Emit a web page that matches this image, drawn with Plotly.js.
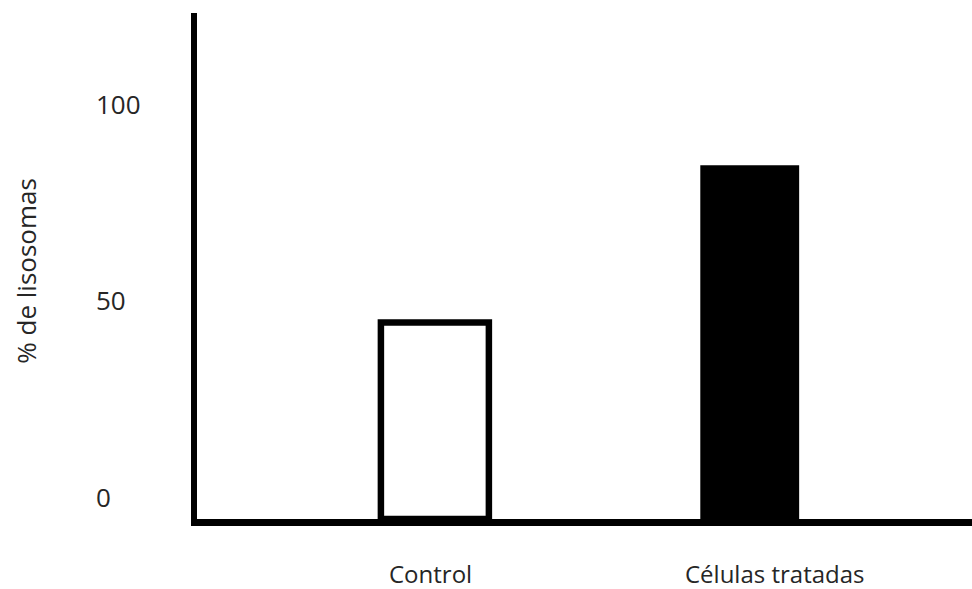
<!DOCTYPE html>
<html>
<head>
<meta charset="utf-8">
<script src="https://cdn.plot.ly/plotly-3.0.1.min.js"></script>
<style>html,body{margin:0;padding:0;background:#fff;}#chart{width:972px;height:589px;}</style>
</head>
<body>
<div id="chart"></div>
<script>
const categories = ["Control", "Células tratadas"];
const values = [50, 90];
const tickValues = [0, 50, 100];
const tickLabels = ["0", "50", "100"];
const yTitle = "% de lisosomas";

const fillColors = ["#ffffff", "#000000"];
const lineColors = ["#000000", "#000000"];
const lineWidths = [6.5, 0];
const barWidths = [0.343, 0.314];
const labelShiftX = [-4, 25];

const textColor = "#262626";
const fontFamily = "'Open Sans', 'DejaVu Sans', sans-serif";

const trace = {
  type: "bar",
  x: categories,
  y: values,
  width: barWidths,
  marker: { color: fillColors, line: { color: lineColors, width: lineWidths } },
  hoverinfo: "x+y"
};

const annotations = [];
tickValues.forEach((v, i) => {
  annotations.push({
    xref: "paper", yref: "y", x: -0.133, y: v,
    xanchor: "left", yanchor: "middle", yshift: 22,
    text: tickLabels[i], showarrow: false,
    font: { family: fontFamily, size: 26, color: textColor }
  });
});
categories.forEach((c, i) => {
  annotations.push({
    xref: "x", yref: "paper", x: c, y: 0,
    xanchor: "center", yanchor: "middle", xshift: labelShiftX[i], yshift: -54,
    text: c, showarrow: false, borderpad: 0,
    font: { family: fontFamily, size: 24, color: textColor }
  });
});
annotations.push({
  xref: "paper", yref: "paper", x: -0.2211, y: 0.49,
  xanchor: "center", yanchor: "middle", textangle: -90,
  text: yTitle, showarrow: false,
  font: { family: fontFamily, size: 26, color: textColor }
});

const layout = {
  width: 972, height: 589,
  margin: { l: 196.5, r: 0, t: 13, b: 70, pad: 0 },
  paper_bgcolor: "#ffffff", plot_bgcolor: "#ffffff",
  showlegend: false,
  xaxis: {
    type: "category", range: [-0.7556, 1.706],
    showline: true, linecolor: "#000000", linewidth: 7,
    showgrid: false, zeroline: false, ticks: "", showticklabels: false, fixedrange: true
  },
  yaxis: {
    range: [0, 128.7], tickvals: tickValues, ticktext: tickLabels,
    showline: true, linecolor: "#000000", linewidth: 6,
    showgrid: false, zeroline: false, ticks: "", showticklabels: false, fixedrange: true
  },
  annotations: annotations
};

Plotly.newPlot("chart", [trace], layout, { displayModeBar: false, staticPlot: true });
</script>
</body>
</html>
